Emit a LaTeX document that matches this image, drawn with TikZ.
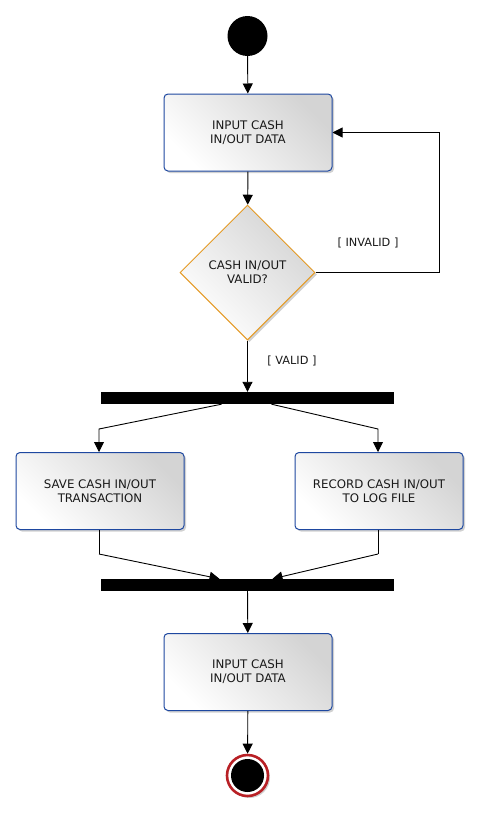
\documentclass[tikz,border=0pt]{standalone}
\usepackage{fontspec}
\setmainfont{DejaVu Sans}
\usetikzlibrary{arrows.meta,shapes.geometric,shadows}
\definecolor{boxblue}{HTML}{1E48A0}
\definecolor{decorange}{HTML}{E59A24}
\definecolor{endred}{HTML}{B82025}
\definecolor{shadegray}{HTML}{D4D4D4}
\begin{document}
\begin{tikzpicture}[x=1pt,y=-1pt,
  every node/.style={font=\fontsize{11.8}{14}\selectfont, text=black!90},
  actbox/.style={rectangle, rounded corners=4pt, draw=boxblue, line width=1pt,
    left color=white, right color=shadegray, shading angle=135,
    minimum width=168pt, minimum height=77pt, align=center, inner sep=2pt,
    drop shadow={shadow xshift=2pt, shadow yshift=-2pt, fill=black, opacity=0.18}},
  decision/.style={diamond, aspect=1, draw=decorange, line width=1pt,
    left color=white, right color=shadegray, shading angle=135,
    minimum size=135pt, inner sep=0pt, align=center,
    drop shadow={shadow xshift=2pt, shadow yshift=-2pt, fill=black, opacity=0.18}},
  startnode/.style={circle, fill=black, minimum size=40pt, inner sep=0pt},
  endnode/.style={circle, draw=endred, line width=2.6pt, fill=white, minimum size=41pt, inner sep=0pt,
    drop shadow={shadow xshift=2pt, shadow yshift=-2pt, fill=black, opacity=0.18}},
  barnode/.style={rectangle, fill=black, minimum width=293pt, minimum height=12pt, inner sep=0pt},
  arr/.style={-{Triangle[length=10pt,width=10pt]}, line width=0.9pt},
  guard/.style={font=\fontsize{11.3}{13}\selectfont}
]
\useasboundingbox (0,0) rectangle (478,822);

\node[startnode] (start) at (247.5,36) {};
\node[actbox] (in1) at (248,132.5) {INPUT CASH\\IN/OUT DATA};
\node[decision] (dec) at (247.5,272.5) {CASH IN/OUT\\VALID?};
\node[barnode] (fork) at (247.5,398) {};
\node[actbox] (save) at (100,491) {SAVE CASH IN/OUT\\TRANSACTION};
\node[actbox] (rec) at (379,491) {RECORD CASH IN/OUT\\TO LOG FILE};
\node[barnode] (join) at (247.5,585) {};
\node[actbox] (in2) at (248,672) {INPUT CASH\\IN/OUT DATA};
\node[endnode] (end) at (247.5,775.5) {};
\fill[black] (end.center) circle (16.5);

\node[guard] (linv) at (368,243) {[ INVALID ]};
\node[guard] (lval) at (292,361) {[ VALID ]};

\coordinate (loop) at (439,272.5);
\coordinate (fl) at (99,429);
\coordinate (fr) at (378,429);
\coordinate (jl) at (99,554);
\coordinate (jr) at (378,554);

\draw[arr] (start) -- (in1);
\draw[arr] (in1) -- (dec);
\draw[arr] (dec.east) -- (loop) |- (in1.east);
\draw[arr] (dec.south) -- (fork.north);
\draw[arr] ([xshift=-26pt]fork.south) -- (fl) -- (fl |- save.north);
\draw[arr] ([xshift=24pt]fork.south) -- (fr) -- (fr |- rec.north);
\draw (save.south -| jl) -- (jl);
\draw[arr] (jl) -- ([xshift=-28pt]join.north);
\draw (rec.south -| jr) -- (jr);
\draw[arr] (jr) -- ([xshift=25pt]join.north);
\draw[arr] (join) -- (in2);
\draw[arr] (in2) -- (end);
\end{tikzpicture}
\end{document}
